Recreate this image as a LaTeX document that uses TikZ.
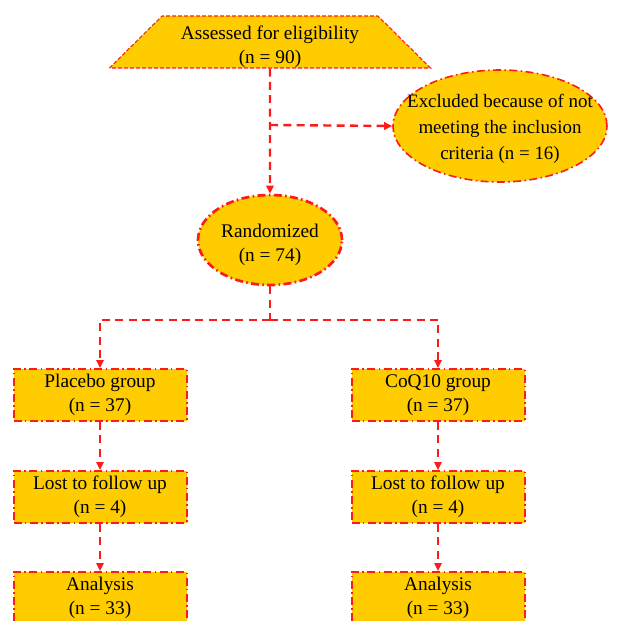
\documentclass[tikz,border=0pt]{standalone}
\usepackage{fontspec}
\setmainfont{Liberation Serif}
\usetikzlibrary{shapes.geometric,arrows.meta}
\definecolor{gold}{HTML}{FFCC00}
\definecolor{flowred}{HTML}{FF1A1A}

\begin{document}
\begin{tikzpicture}[x=0.75pt,y=-0.75pt,
    every node/.style={font=\fontsize{14.5}{18}\selectfont,align=center,fill=gold,inner sep=0pt},
    dashdot/.style={draw=flowred,dash pattern=on 6pt off 2.5pt on 1.2pt off 2.5pt},
    stage/.style={rectangle,dashdot,line width=1.5pt,minimum width=129.75pt,minimum height=39pt},
    conn/.style={draw=flowred,line width=1.8pt,dash pattern=on 6pt off 4pt,-{Triangle[length=6pt,width=5.5pt]}},
    link/.style={draw=flowred,line width=1.8pt,dash pattern=on 6pt off 4pt}]
    \clip (0,0) rectangle (617,621);
    \useasboundingbox (0,0) rectangle (617,621);
    % screening
    \node[trapezium,trapezium angle=44,trapezium stretches body,minimum width=240.75pt,minimum height=39pt,
          draw=flowred,line width=0.8pt,dash pattern=on 3pt off 1.5pt] (assess) at (270,42)
        {\rule{0pt}{17pt}Assessed for eligibility\\(n = 90)};
    \node[ellipse,dashdot,line width=1.2pt,inner xsep=-16pt,minimum width=160.5pt,minimum height=84pt,
          font=\fontsize{14.2}{19.5}\selectfont] (excl) at (500,126)
        {\rule{0pt}{15pt}Excluded because of not\\meeting the inclusion\\criteria (n = 16)};
    \node[ellipse,dashdot,line width=2pt,minimum width=108pt,minimum height=67.5pt] (rand) at (270,240)
        {\rule{0pt}{17pt}Randomized\\(n = 74)};
    % two arms
    \node[stage] (placebo) at (100,395) {Placebo group\\(n = 37)};
    \node[stage] (coq) at (438,395) {CoQ10 group\\(n = 37)};
    \node[stage] (lostA) at (100,497) {Lost to follow up\\(n = 4)};
    \node[stage] (lostB) at (438,497) {Lost to follow up\\(n = 4)};
    \node[stage] (anaA) at (100,598) {Analysis\\(n = 33)};
    \node[stage] (anaB) at (438,598) {Analysis\\(n = 33)};
    \coordinate (split) at (270,125);
    \coordinate (fork) at (270,320);
    % connectors
    \draw[conn] (assess.south) -- (rand.north);
    \draw[conn] (split) -- (excl.west);
    \draw[link] (rand.south) -- (fork);
    \draw[conn] (fork) -| (placebo.north);
    \draw[conn] (fork) -| (coq.north);
    \draw[conn] (placebo) -- (lostA);
    \draw[conn] (coq) -- (lostB);
    \draw[conn] (lostA) -- (anaA);
    \draw[conn] (lostB) -- (anaB);
\end{tikzpicture}
\end{document}
